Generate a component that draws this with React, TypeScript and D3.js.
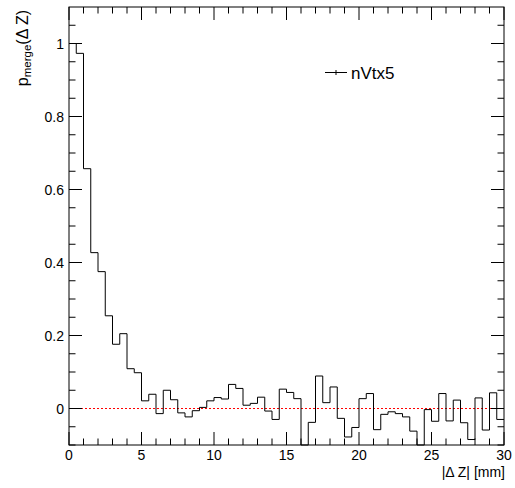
import React from "react";
import * as d3 from "d3";

const binEdgesStart = 0;
const binWidth = 0.5;
const pMerge = [
  1.0, 0.973, 0.657, 0.427, 0.375, 0.254, 0.176, 0.205, 0.109, 0.098,
  0.021, 0.039, -0.014, 0.05, 0.024, -0.012, -0.023, -0.006, 0.003, 0.021,
  0.03, 0.026, 0.066, 0.055, 0.009, 0.014, 0.031, -0.007, -0.03, 0.053,
  0.044, 0.027, -0.15, -0.038, 0.089, 0.016, 0.059, -0.027, -0.078, -0.052,
  0.027, 0.041, -0.058, -0.016, -0.009, -0.014, -0.023, -0.062, -0.15, -0.003,
  -0.035, 0.041, -0.034, 0.023, -0.039, -0.085, 0.029, -0.059, 0.043, -0.03,
];
const xMajorTicks = [0, 5, 10, 15, 20, 25, 30];
const xTickLabels = ["0", "5", "10", "15", "20", "25", "30"];
const yMajorTicks = [0, 0.2, 0.4, 0.6, 0.8, 1];
const yTickLabels = ["0", "0.2", "0.4", "0.6", "0.8", "1"];
const xDomain = [0, 30];
const yDomain = [-0.1, 1.1];
const legendLabel = "nVtx5";

const W = 515;
const H = 488;
const L = 69;
const R = 504;
const T = 7;
const B = 445;
const font = "'Liberation Sans', Arial, Helvetica, sans-serif";

export default function App() {
  const x = d3.scaleLinear().domain(xDomain).range([L, R]);
  const y = d3.scaleLinear().domain(yDomain).range([B, T]).clamp(true);

  const pts: [number, number][] = [];
  pMerge.forEach((v, i) => {
    const x0 = binEdgesStart + i * binWidth;
    pts.push([x(x0), y(v)]);
    pts.push([x(x0 + binWidth), y(v)]);
  });
  const histPath = d3.line()(pts) || "";

  const xMinor = d3.range(0, 31, 1).filter((v) => v % 5 !== 0);
  const yMinor = d3.range(-2, 22, 1).map((k) => k * 0.05).filter((v) => Math.abs(v / 0.2 - Math.round(v / 0.2)) > 1e-6 && v <= 1.1 + 1e-9);

  const major = 13;
  const minor = 6.5;

  return (
    <svg width={W} height={H} style={{ position: "absolute", left: 0, top: 0, background: "#fff" }}>
      <rect x={0} y={0} width={W} height={H} fill="#fff" />
      {/* zero line */}
      <line x1={L} x2={R} y1={y(0)} y2={y(0)} stroke="#ff0000" strokeWidth={1} strokeDasharray="2,2" />
      {/* histogram */}
      <path d={histPath} fill="none" stroke="#000" strokeWidth={1} />
      {/* frame */}
      <rect x={L} y={T} width={R - L} height={B - T} fill="none" stroke="#000" strokeWidth={1} />
      {/* x ticks */}
      {xMajorTicks.map((t) => (
        <g key={"xm" + t}>
          <line x1={x(t)} x2={x(t)} y1={B} y2={B - major} stroke="#000" />
          <line x1={x(t)} x2={x(t)} y1={T} y2={T + major} stroke="#000" />
        </g>
      ))}
      {xMinor.map((t) => (
        <g key={"xn" + t}>
          <line x1={x(t)} x2={x(t)} y1={B} y2={B - minor} stroke="#000" />
          <line x1={x(t)} x2={x(t)} y1={T} y2={T + minor} stroke="#000" />
        </g>
      ))}
      {/* y ticks */}
      {yMajorTicks.map((t) => (
        <g key={"ym" + t}>
          <line x1={L} x2={L + major} y1={y(t)} y2={y(t)} stroke="#000" />
          <line x1={R} x2={R - major} y1={y(t)} y2={y(t)} stroke="#000" />
        </g>
      ))}
      {yMinor.map((t) => (
        <g key={"yn" + t}>
          <line x1={L} x2={L + minor} y1={y(t)} y2={y(t)} stroke="#000" />
          <line x1={R} x2={R - minor} y1={y(t)} y2={y(t)} stroke="#000" />
        </g>
      ))}
      {/* tick labels */}
      {xMajorTicks.map((t, i) => (
        <text key={"xl" + t} x={x(t)} y={460} textAnchor="middle" fontFamily={font} fontSize={14} fill="#000">
          {xTickLabels[i]}
        </text>
      ))}
      {yMajorTicks.map((t, i) => (
        <text key={"yl" + t} x={64} y={y(t) + 5} textAnchor="end" fontFamily={font} fontSize={14} fill="#000">
          {yTickLabels[i]}
        </text>
      ))}
      {/* axis titles */}
      <text x={505} y={477} textAnchor="end" fontFamily={font} fontSize={14} fill="#000">
        |Δ Z| [mm]
      </text>
      <text transform="translate(28,10) rotate(-90)" textAnchor="end" fontFamily={font} fontSize={16} fill="#000">
        p<tspan fontSize={11.5} dy={3}>merge</tspan>
        <tspan dy={-3}>(Δ Z)</tspan>
      </text>
      {/* legend */}
      <line x1={325} x2={347} y1={72.5} y2={72.5} stroke="#000" />
      <line x1={336} x2={336} y1={70} y2={75} stroke="#000" />
      <text x={351} y={79} fontFamily={font} fontSize={17} fill="#000">
        {legendLabel}
      </text>
    </svg>
  );
}
